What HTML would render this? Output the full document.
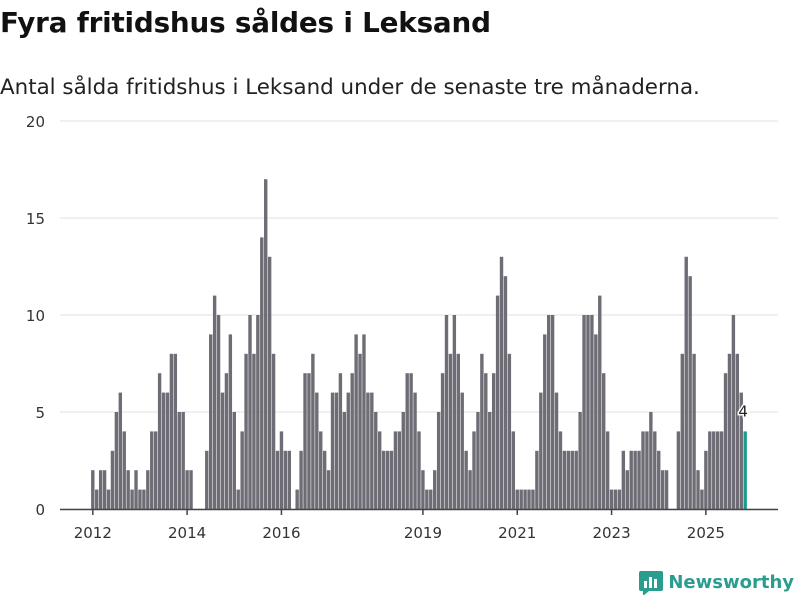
<!DOCTYPE html>
<html><head><meta charset="utf-8"><style>
body{margin:0;width:800px;height:600px;background:#fff;font-family:"DejaVu Sans","Liberation Sans",sans-serif;overflow:hidden;position:relative}
h1{position:absolute;left:0;top:6px;margin:0;font-size:27.8px;font-weight:bold;color:#111;letter-spacing:-0.2px}
.sub{position:absolute;left:0;top:75px;margin:0;font-size:21.4px;color:#222}
svg{position:absolute;left:0;top:0}
.logo{position:absolute;right:6px;top:569px;display:flex;align-items:center;gap:5px;color:#2a9d8f;font-weight:bold;font-size:18px}
</style></head><body>
<h1>Fyra fritidshus såldes i Leksand</h1>
<p class="sub">Antal sålda fritidshus i Leksand under de senaste tre månaderna.</p>
<svg id="chart" width="800" height="600"></svg>
<div class="logo">
<svg width="24" height="26" style="position:static"><rect x="0" y="2" width="24" height="20" rx="2" fill="#2a9d8f"/><polygon points="4,22 10,22 4,27" fill="#2a9d8f"/><rect x="5" y="12" width="3" height="7" fill="#fff"/><rect x="10" y="8" width="3" height="11" fill="#fff"/><rect x="15" y="10" width="3" height="9" fill="#fff"/></svg>
<span>Newsworthy</span></div>
<script>
const values = [
2,1,2,2,1,3,5,6,4,2,1,2,
1,1,2,4,4,7,6,6,8,8,5,5,
2,2,0,0,0,3,9,11,10,6,7,9,
5,1,4,8,10,8,10,14,17,13,8,3,
4,3,3,0,1,3,7,7,8,6,4,3,
2,6,6,7,5,6,7,9,8,9,6,6,
5,4,3,3,3,4,4,5,7,7,6,4,
2,1,1,2,5,7,10,8,10,8,6,3,
2,4,5,8,7,5,7,11,13,12,8,4,
1,1,1,1,1,3,6,9,10,10,6,4,
3,3,3,3,5,10,10,10,9,11,7,4,
1,1,1,3,2,3,3,3,4,4,5,4,
3,2,2,0,0,4,8,13,12,8,2,1,
3,4,4,4,4,7,8,10,8,6,4];
const startYear = 2012;
const yTicks = [0,5,10,15,20];
const xTickYears = [2012,2014,2016,2019,2021,2023,2025];
const svg=document.getElementById('chart');
const NS='http://www.w3.org/2000/svg';
const y0=509,y1=121,yMax=20;
const y=v=>y0-(v/yMax)*(y0-y1);
const step=3.93,left=91;
const xc=i=>left+1.8+i*step;
const FF='DejaVu Sans, Liberation Sans, sans-serif';
function mk(t,a){const e=document.createElementNS(NS,t);for(const k in a)e.setAttribute(k,a[k]);svg.appendChild(e);return e;}
yTicks.forEach(t=>{
  const g=mk('line',{x1:60,x2:778,y1:y(t),y2:y(t),stroke:'#e2e2e2','stroke-width':1});
  
  
  const l=mk('text',{x:45,y:y(t)+6,'text-anchor':'end','font-size':15,fill:'#333','font-family':FF});
  l.textContent=t;
  
  
});
values.forEach((v,i)=>{
  const last=i===values.length-1;
  const r=mk('rect',{x:xc(i)-1.7,y:y(v),width:3.4,height:y0-y(v),fill:last?'#1a9c8c':'#6e6d75'});
  
  
});
const ax=mk('line',{x1:60,x2:778,y1:y0+0.5,y2:y0+0.5,stroke:'#444','stroke-width':1.5});


xTickYears.forEach(yr=>{
  const i=(yr-startYear)*12, x=xc(i);
  const t=mk('line',{x1:x,x2:x,y1:y0,y2:y0+6,stroke:'#444','stroke-width':1.5});
  
  
  const l=mk('text',{x:x,y:538,'text-anchor':'middle','font-size':15,fill:'#333','font-family':FF});
  l.textContent=yr;
  
  
});
const li=values.length-1;
const vl=mk('text',{x:xc(li)-2,y:y(values[li])-15,'text-anchor':'middle','font-size':15,fill:'#222',stroke:'#fff','stroke-width':3,'paint-order':'stroke','font-family':FF});
vl.textContent=values[li];


</script>
</body></html>
